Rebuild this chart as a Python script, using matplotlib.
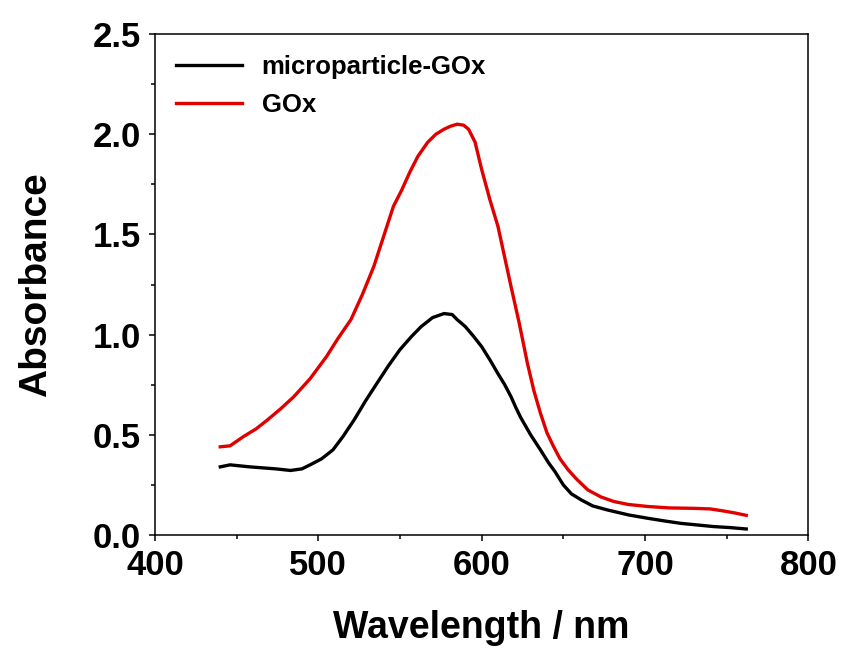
import matplotlib
matplotlib.use("Agg")
import matplotlib.pyplot as plt
from matplotlib.ticker import MultipleLocator

plt.rcParams['font.family'] = ['Liberation Sans', 'DejaVu Sans']
plt.rcParams['font.weight'] = 'bold'

# GOx (red) spectrum
wl_gox = [440, 446, 454, 462, 469, 477, 485, 495, 505, 512, 520, 527, 534, 540, 546, 551, 556, 561,
          567, 572, 577, 581, 585, 589, 592, 596, 600, 605, 610, 614, 618, 623, 628, 632, 636, 640,
          644, 648, 653, 658, 665, 673, 681, 690, 702, 715, 730, 740, 748, 755, 762]
ab_gox = [0.44, 0.445, 0.49, 0.53, 0.575, 0.63, 0.69, 0.78, 0.89, 0.98, 1.075, 1.2, 1.34, 1.49, 1.64,
          1.72, 1.81, 1.89, 1.96, 2.0, 2.025, 2.04, 2.05, 2.045, 2.025, 1.96, 1.825, 1.675, 1.54, 1.39,
          1.24, 1.058, 0.858, 0.72, 0.608, 0.51, 0.442, 0.38, 0.325, 0.28, 0.225, 0.19, 0.167, 0.152,
          0.142, 0.135, 0.133, 0.13, 0.12, 0.11, 0.098]

# microparticle-GOx (black) spectrum
wl_mp = [440, 446, 452, 458, 466, 474, 483, 490, 495, 502, 509, 515, 522, 529, 536, 543, 550, 557,
         563, 570, 577, 582, 585, 590, 595, 600, 605, 610, 614, 618, 621, 624, 630, 636, 641, 645,
         650, 655, 661, 668, 677, 690, 702, 712, 722, 732, 742, 752, 762]
ab_mp = [0.34, 0.35, 0.345, 0.34, 0.335, 0.33, 0.322, 0.33, 0.35, 0.38, 0.425, 0.49, 0.575, 0.67,
         0.758, 0.845, 0.925, 0.99, 1.04, 1.085, 1.105, 1.1, 1.075, 1.04, 0.992, 0.94, 0.875, 0.805,
         0.752, 0.69, 0.635, 0.585, 0.5, 0.425, 0.36, 0.315, 0.25, 0.205, 0.175, 0.145, 0.125, 0.1,
         0.083, 0.07, 0.058, 0.05, 0.042, 0.037, 0.03]

fig = plt.figure(figsize=(8.42, 6.48), dpi=100)
ax = fig.add_axes([0.184, 0.1744, 0.776, 0.7731])

ax.plot(wl_mp, ab_mp, color='black', lw=2.4, label='microparticle-GOx')
ax.plot(wl_gox, ab_gox, color='#e00000', lw=2.4, label='GOx')

ax.set_xlim(400, 800)
ax.set_ylim(0, 2.5)
ax.xaxis.set_major_locator(MultipleLocator(100))
ax.xaxis.set_minor_locator(MultipleLocator(50))
ax.yaxis.set_major_locator(MultipleLocator(0.5))
ax.yaxis.set_minor_locator(MultipleLocator(0.25))
ax.yaxis.set_major_formatter(matplotlib.ticker.FormatStrFormatter('%.1f'))

for s in ax.spines.values():
    s.set_linewidth(1.1)
ax.tick_params(which='major', direction='out', length=4, width=1.1, labelsize=25, pad=6)
ax.tick_params(which='minor', direction='out', length=3, width=1.1)
ax.tick_params(top=False, right=False)
for lab in ax.get_xticklabels() + ax.get_yticklabels():
    lab.set_fontweight('bold')

ax.set_xlabel('Wavelength / nm', fontsize=27, fontweight='bold', labelpad=20)
ax.set_ylabel('Absorbance', fontsize=28, fontweight='bold', labelpad=28)

leg = ax.legend(loc='upper left', frameon=False, fontsize=18.5, handlelength=2.6,
                handletextpad=0.75, labelspacing=0.55, borderaxespad=0.3,
                bbox_to_anchor=(0.004, 0.995))
for t in leg.get_texts():
    t.set_fontweight('bold')

fig.savefig('out.png', dpi=100)
